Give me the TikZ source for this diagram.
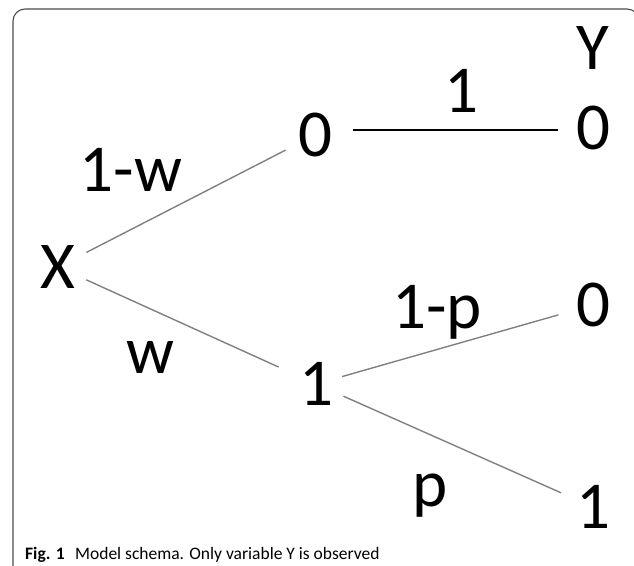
\documentclass[tikz,border=0pt]{standalone}
\usepackage{fontspec}
\setmainfont{Carlito}
\begin{document}
\begin{tikzpicture}[x=1pt,y=-1pt,
  lbl/.style={inner sep=0pt,outer sep=0pt,font=\fontsize{67}{67}\selectfont},
  branch/.style={draw=black!50,line width=1.4pt},
  solidbranch/.style={draw=black,line width=2pt},
  frame/.style={draw=black!70,line width=1.1pt,rounded corners=12pt}]
\useasboundingbox (0,0) rectangle (634,565);
\clip (0,0) rectangle (634,565);
\draw[frame] (13,580) -- (13,9) -- (639,9) -- (639,580);
% nodes
\node[lbl] (X) at (58,267) {X};
\node[lbl] (A) at (315,135) {0};
\node[lbl] (C) at (316,384) {1};
\node[lbl] (Y) at (593,48) {Y};
\node[lbl] (B) at (593,128) {0};
\node[lbl] (D) at (593,305) {0};
\node[lbl] (E) at (593,507) {1};
% edge labels
\node[lbl] (l1w) at (131,170) {1-w};
\node[lbl] (lw) at (150,357) {w};
\node[lbl] (l1) at (461,91) {1};
\node[lbl] (l1p) at (437,312) {1-p};
\node[lbl] (lp) at (430,496) {p};
% connectors
\draw[branch,shorten <=32pt,shorten >=33pt] (X.center) -- (A.center);
\draw[branch,shorten <=31pt,shorten >=41pt] (X.center) -- (C.center);
\draw[solidbranch,shorten <=38pt,shorten >=35pt] ([yshift=5pt]A.center) -- ([yshift=-2pt]B.center);
\draw[branch,shorten <=27pt,shorten >=36pt] (C.center) -- (D.center);
\draw[branch,shorten <=30pt,shorten >=35pt] (C.center) -- (E.center);
% caption
\node[anchor=base west,inner sep=0pt,font=\fontsize{17.5}{18}\selectfont] (cap) at (25,559)
  {\textbf{Fig. 1}\hspace{0.6em}Model schema. Only variable Y is observed};
\end{tikzpicture}
\end{document}
